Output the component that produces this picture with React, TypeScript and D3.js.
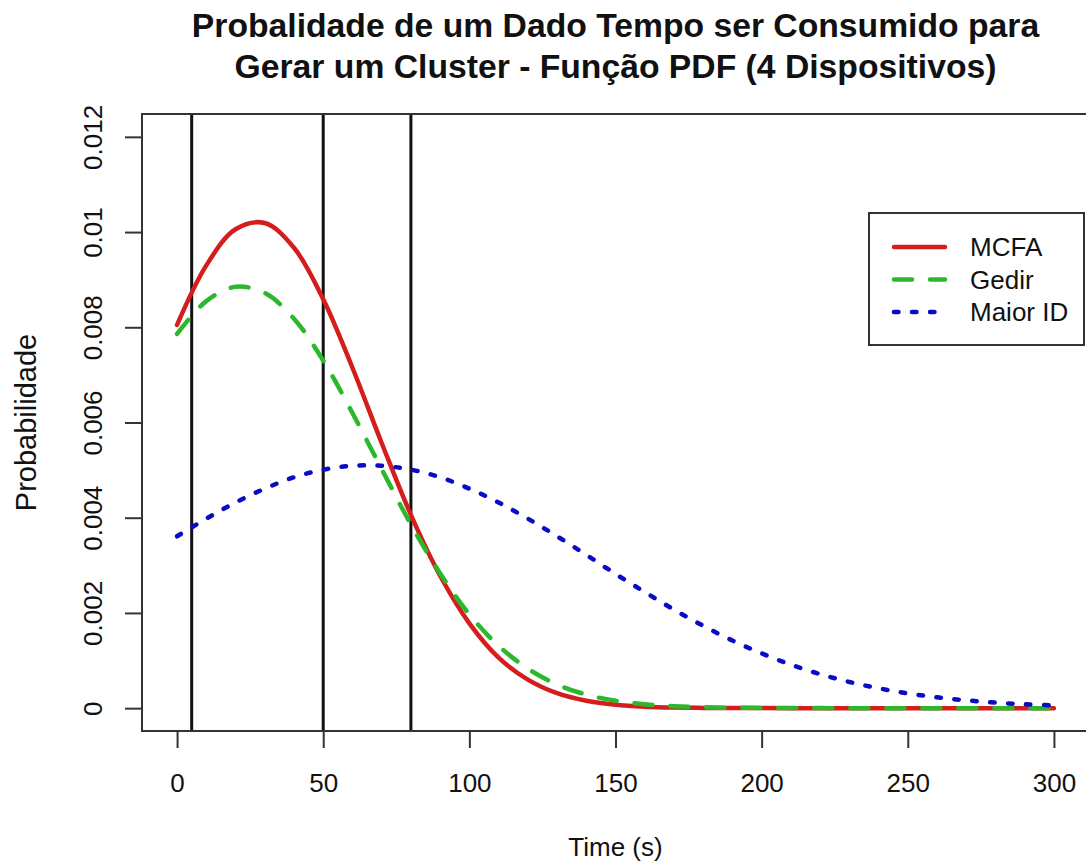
import React, { useRef, useEffect } from "react";
import * as d3 from "d3";

const timeSteps = [0, 10, 20, 30, 40, 50, 60, 70, 80, 90, 100, 110, 120, 130, 140, 150, 160, 170, 180, 190, 200, 210, 220, 230, 240, 250, 260, 270, 280, 290, 300];

const mcfa = [0.00805, 0.0093, 0.01006, 0.01019, 0.00967, 0.00859, 0.00715, 0.00557, 0.00406, 0.00278, 0.00178, 0.00106, 0.0006, 0.000314, 0.000155, 0.0000712, 0.0000308, 0.0000124, 0.0000047, 0.0000016, 0.0000005, 0, 0, 0, 0, 0, 0, 0, 0, 0, 0];
const gedir = [0.00786, 0.00855, 0.00885, 0.00872, 0.00818, 0.0073, 0.0062, 0.00502, 0.00386, 0.00283, 0.00197, 0.00131, 0.00083, 0.000497, 0.000285, 0.000155, 0.0000804, 0.0000397, 0.0000186, 0.0000083, 0.0000035, 0.0000014, 0.0000005, 0, 0, 0, 0, 0, 0, 0, 0];
const maiorId = [0.00361, 0.00398, 0.00432, 0.00461, 0.00485, 0.00501, 0.00509, 0.00509, 0.00501, 0.00485, 0.00461, 0.00432, 0.00398, 0.00361, 0.00322, 0.00282, 0.00244, 0.00207, 0.00173, 0.00142, 0.00115, 0.000914, 0.000715, 0.00055, 0.000417, 0.000311, 0.000228, 0.000164, 0.000116, 0.0000813, 0.0000558];

// vertical reference lines
const markers = [5, 50, 80];

const xTicks = [0, 50, 100, 150, 200, 250, 300];
const yTicks = [0, 0.002, 0.004, 0.006, 0.008, 0.01, 0.012];
const yTickLabels = ["0", "0.002", "0.004", "0.006", "0.008", "0.01", "0.012"];

const seriesNames = ["MCFA", "Gedir", "Maior ID"];
const seriesColors = ["#d41e1e", "#2cb82c", "#0b0bc4"];
const seriesDash = ["none", "18 18", "4.5 13.5"];

const titleLines = [
  "Probalidade de um Dado Tempo ser Consumido para",
  "Gerar um Cluster - Função PDF (4 Dispositivos)",
];

const W = 1086;
const H = 864;
const font = "'Liberation Sans', Arial, Helvetica, sans-serif";

export default function App() {
  const xAxisRef = useRef<SVGGElement>(null);
  const yAxisRef = useRef<SVGGElement>(null);

  // plot region (R style: 4% padding around the data range)
  const left = 142, right = 1089, top = 114, bottom = 731;
  const xPad = 300 * 0.04;
  const yPad = 0.012 * 0.04;
  const x = d3.scaleLinear().domain([0 - xPad, 300 + xPad]).range([left, right]);
  const y = d3.scaleLinear().domain([0 - yPad, 0.012 + yPad]).range([bottom, top]);

  const series = [mcfa, gedir, maiorId];
  const line = d3
    .line<number>()
    .x((d, i) => x(timeSteps[i]))
    .y((d) => y(d))
    .curve(d3.curveCatmullRom.alpha(0.5));

  useEffect(() => {
    const xAxis = d3.axisBottom(x).tickValues(xTicks).tickSize(17).tickFormat(d3.format("d"));
    const gx = d3.select(xAxisRef.current);
    gx.call(xAxis as any);
    gx.select(".domain").remove();
    gx.selectAll(".tick line").attr("stroke", "#333").attr("stroke-width", 2);
    gx.selectAll(".tick text")
      .attr("font-family", font)
      .attr("font-size", 26)
      .attr("fill", "#111")
      .attr("dy", null)
      .attr("y", 61);

    const yAxis = d3
      .axisLeft(y)
      .tickValues(yTicks)
      .tickSize(17)
      .tickFormat((d, i) => yTickLabels[i]);
    const gy = d3.select(yAxisRef.current);
    gy.call(yAxis as any);
    gy.select(".domain").remove();
    gy.selectAll(".tick line").attr("stroke", "#333").attr("stroke-width", 2);
    gy.selectAll(".tick text")
      .attr("font-family", font)
      .attr("font-size", 26)
      .attr("fill", "#111")
      .attr("x", null)
      .attr("dy", null)
      .attr("text-anchor", "middle")
      .attr("transform", "translate(-40,0) rotate(-90)");
  }, []);

  return (
    <svg width={W} height={H} style={{ position: "absolute", left: 0, top: 0, background: "#fff" }}>
      <defs>
        <clipPath id="plotClip">
          <rect x={left} y={top} width={right - left} height={bottom - top} />
        </clipPath>
      </defs>
      <rect x={0} y={0} width={W} height={H} fill="#fff" />

      {titleLines.map((t, i) => (
        <text key={i} x={(left + right) / 2} y={37 + i * 41} textAnchor="middle" fontFamily={font} fontWeight="bold" fontSize={33.7} fill="#111">
          {t}
        </text>
      ))}

      <g clipPath="url(#plotClip)">
        {markers.map((m) => (
          <line key={m} x1={x(m)} x2={x(m)} y1={top} y2={bottom} stroke="#111" strokeWidth={3} />
        ))}
        {series.map((s, i) => (
          <path
            key={seriesNames[i]}
            d={line(s) || ""}
            fill="none"
            stroke={seriesColors[i]}
            strokeWidth={4.5}
            strokeDasharray={seriesDash[i]}
            strokeLinecap="round"
            strokeLinejoin="round"
          />
        ))}
      </g>

      <rect x={left} y={top} width={right - left} height={bottom - top} fill="none" stroke="#333" strokeWidth={2} />

      <g ref={xAxisRef} transform={`translate(0,${bottom})`} />
      <g ref={yAxisRef} transform={`translate(${left},0)`} />

      <text x={(left + right) / 2} y={856} textAnchor="middle" fontFamily={font} fontSize={26} fill="#111">
        Time (s)
      </text>
      <text transform={`translate(36,${(top + bottom) / 2}) rotate(-90)`} textAnchor="middle" fontFamily={font} fontSize={29} fill="#111">
        Probabilidade
      </text>

      {/* legend */}
      <rect x={869} y={213} width={215} height={132} fill="#fff" stroke="#333" strokeWidth={2} />
      {seriesNames.map((n, i) => (
        <g key={n} transform={`translate(0,${247 + i * 32.5})`}>
          <line x1={894} x2={945} y1={0} y2={0} stroke={seriesColors[i]} strokeWidth={4.5} strokeDasharray={seriesDash[i]} strokeLinecap="round" />
          <text x={970} y={9} fontFamily={font} fontSize={26} fill="#111">
            {n}
          </text>
        </g>
      ))}
    </svg>
  );
}
